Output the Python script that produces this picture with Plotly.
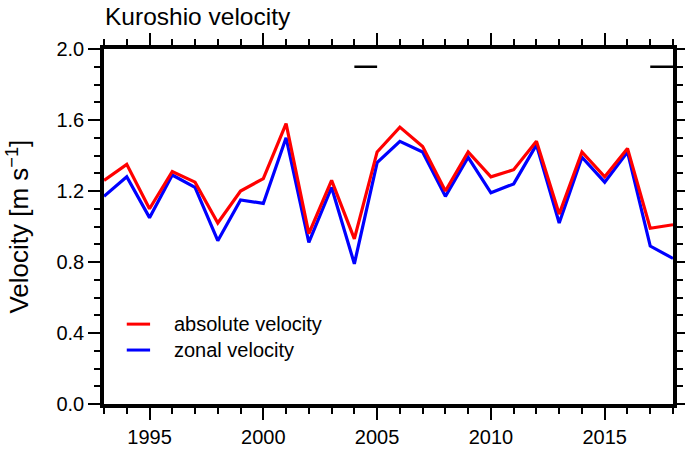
import plotly.graph_objects as go

years = list(range(1993, 2019))
absolute_velocity = [1.26, 1.35, 1.10, 1.31, 1.25, 1.02, 1.20, 1.27, 1.58, 0.96, 1.26, 0.93, 1.42,
                     1.56, 1.45, 1.20, 1.42, 1.28, 1.32, 1.48, 1.07, 1.42, 1.28, 1.44, 0.99, 1.01]
zonal_velocity = [1.17, 1.28, 1.05, 1.29, 1.22, 0.92, 1.15, 1.13, 1.50, 0.91, 1.22, 0.79, 1.36,
                  1.48, 1.42, 1.17, 1.39, 1.19, 1.24, 1.46, 1.02, 1.39, 1.25, 1.42, 0.89, 0.82]
period_starts = [2004, 2017]
period_ends = [2005, 2018]
period_level = 1.9

FONT = "Liberation Sans, Arial, sans-serif"

fig = go.Figure()

fig.add_trace(go.Scatter(x=years, y=zonal_velocity, mode="lines",
                         line=dict(color="#0000ff", width=3.2), name="zonal velocity",
                         showlegend=False))
fig.add_trace(go.Scatter(x=years, y=absolute_velocity, mode="lines",
                         line=dict(color="#ff0000", width=3.2), name="absolute velocity",
                         showlegend=False))

seg_x, seg_y = [], []
for s, e in zip(period_starts, period_ends):
    seg_x += [s, e, None]
    seg_y += [period_level, period_level, None]
fig.add_trace(go.Scatter(x=seg_x, y=seg_y, mode="lines",
                         line=dict(color="black", width=2.5), showlegend=False))

# manual legend
legend_items = [("absolute velocity", "#ff0000", 0.225), ("zonal velocity", "#0000ff", 0.152)]
for label, color, yy in legend_items:
    fig.add_shape(type="line", xref="paper", yref="paper", x0=0.040, x1=0.081, y0=yy, y1=yy,
                  line=dict(color=color, width=3))
    fig.add_annotation(text=label, xref="paper", yref="paper", x=0.1195, y=yy,
                       xanchor="left", yanchor="middle", showarrow=False,
                       font=dict(family=FONT, size=20, color="black"))

# y-axis title
fig.add_annotation(text="Velocity [m s<sup>−1</sup>]", xref="paper", yref="paper",
                   x=-0.151, y=0.5, xanchor="center", yanchor="middle", textangle=-90,
                   showarrow=False, font=dict(family=FONT, size=26, color="black"))

axis_common = dict(
    showline=True, linecolor="black", linewidth=3.5, mirror="allticks",
    ticks="outside", ticklen=12, tickwidth=2, tickcolor="black",
    showgrid=False, zeroline=False, automargin=False,
    tickfont=dict(family=FONT, size=20, color="black"),
)

fig.update_xaxes(range=[1993, 2018], tick0=1995, dtick=5,
                 minor=dict(dtick=1, ticks="outside", ticklen=6, tickwidth=2, tickcolor="black",
                            showgrid=False),
                 **axis_common)
fig.update_yaxes(range=[0, 2.0], tick0=0, dtick=0.4, tickformat=".1f",
                 minor=dict(dtick=0.1, ticks="outside", ticklen=6, tickwidth=2, tickcolor="black",
                            showgrid=False),
                 **axis_common)

fig.update_layout(
    width=685, height=450,
    margin=dict(l=104, r=12, t=49, b=46),
    paper_bgcolor="white", plot_bgcolor="white",
    title=dict(text="Kuroshio velocity", x=105/685, xref="container", xanchor="left",
               y=1 - 16/450, yref="container", yanchor="middle",
               font=dict(family=FONT, size=24.5, color="black")),
    showlegend=False,
)

fig.write_html("out.html", config={"displayModeBar": False},
               post_script="document.body.style.margin='0';document.body.style.padding='0';")
